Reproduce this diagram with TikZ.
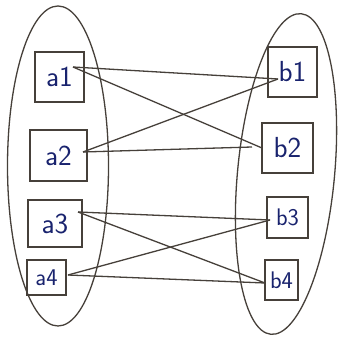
\documentclass[tikz,border=0pt]{standalone}
\usetikzlibrary{shapes.geometric}
\definecolor{ink}{RGB}{25,35,110}
\definecolor{pen}{RGB}{70,64,58}
\begin{document}
\begin{tikzpicture}[x=1pt,y=1pt,
  cell/.style={draw=pen, line width=1.3pt, inner sep=0pt, text=ink, font=\sffamily\fontsize{29}{29}\selectfont},
  smallcell/.style={cell, font=\sffamily\fontsize{24}{24}\selectfont},
  link/.style={draw=pen, line width=1.3pt},
  blob/.style={draw=pen, line width=1.3pt, ellipse, inner sep=0pt}]
\useasboundingbox[fill=white] (0,0) rectangle (337,342);
% sets
\node[blob, minimum width=101, minimum height=320] (L) at (58,176) {};
\node[blob, minimum width=97, minimum height=322, rotate=-5.4] (R) at (286,168) {};
% left boxes
\node[cell, minimum width=49, minimum height=50] (a1) at (59.5,265) {a1};
\node[cell, minimum width=57, minimum height=51] (a2) at (58.5,186.5) {a2};
\node[cell, minimum width=54, minimum height=47] (a3) at (55,118.5) {a3};
\node[smallcell, minimum width=39, minimum height=35] (a4) at (46.5,64.5) {a4};
% right boxes
\node[cell, minimum width=49, minimum height=50] (b1) at (292.5,270) {b1};
\node[cell, minimum width=51, minimum height=50] (b2) at (287.5,194) {b2};
\node[smallcell, minimum width=41, minimum height=41] (b3) at (287.5,124.5) {b3};
\node[smallcell, minimum width=33, minimum height=40] (b4) at (281.5,62) {b4};
% connector ends
\coordinate (pa1) at (73,275);
\coordinate (pa2) at (83,190);
\coordinate (pa3) at (78,130);
\coordinate (pa4) at (68,67);
\coordinate (pb1) at (278,263);
\coordinate (pb2) at (262,194);
\coordinate (qb2) at (252,195);
\coordinate (pb3) at (270,122);
\coordinate (pb4) at (265,59);
% connectors
\draw[link] (pa1) -- (pb1);
\draw[link] (pa1) -- (pb2);
\draw[link] (pa2) -- (pb1);
\draw[link] (pa2) -- (qb2);
\draw[link] (pa3) -- (pb3);
\draw[link] (pa3) -- (pb4);
\draw[link] (pa4) -- (pb3);
\draw[link] (pa4) -- (pb4);
\end{tikzpicture}
\end{document}
